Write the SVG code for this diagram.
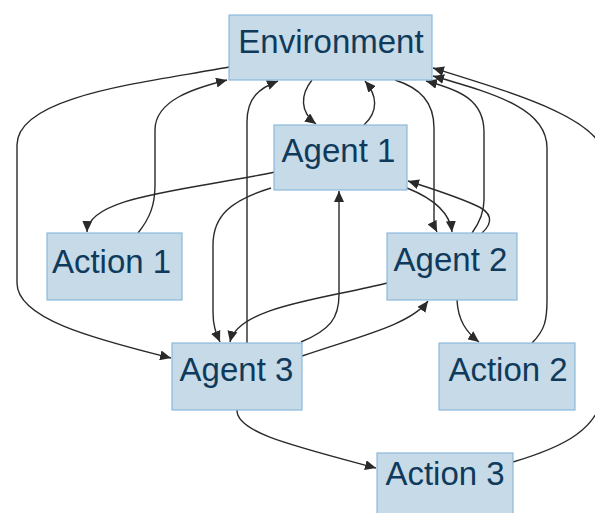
<svg xmlns="http://www.w3.org/2000/svg" width="595" height="513" viewBox="0 0 595 513">
  <style>
    .box { fill: #c6dae7; stroke: #8db9dc; stroke-width: 1.2; }
    .lbl { font-family: "Liberation Sans", Arial, sans-serif; font-size: 33px; fill: #0f3a5c; text-anchor: middle; }
    .edge { fill: none; stroke: #2a2a2a; stroke-width: 1.4; marker-end: url(#arrow); }
  </style>
  <defs>
    <marker id="arrow" markerUnits="userSpaceOnUse" markerWidth="12" markerHeight="10" refX="11" refY="5" orient="auto">
      <path d="M0,0 L11,5 L0,10 Z" fill="#2a2a2a"/>
    </marker>
  </defs>
  <rect width="595" height="513" fill="#ffffff"/>

  <!-- connectors -->
  <g id="connectors">
    <!-- Environment -> Agent 3 -->
    <path class="edge" d="M229,67 C150,82 17,95 17,145 L17,283 C17,318 90,338 171,358"/>
    <!-- Action 1 -> Environment -->
    <path class="edge" d="M138,233 C150,218 155,205 155,185 L155,130 C155,100 195,88 227,80"/>
    <!-- Agent 3 -> Environment -->
    <path class="edge" d="M247,343 L247,122 C247,97 260,88 278,81"/>
    <!-- Agent 1 -> Action 1 -->
    <path class="edge" d="M275,172 C190,190 88,196 87,232"/>
    <!-- Agent 1 -> Agent 3 -->
    <path class="edge" d="M271,188 C232,200 213,215 213,245 L213,312 C213,328 217,335 220,342"/>
    <!-- Environment -> Agent 1 -->
    <path class="edge" d="M312,80 C300,95 300,112 316,124"/>
    <!-- Agent 1 -> Environment -->
    <path class="edge" d="M364,125 C379,111 377,95 365,81"/>
    <!-- Environment -> Agent 2 -->
    <path class="edge" d="M395,80 C420,88 434,102 434,128 L434,220 C434,226 436,230 437,232"/>
    <!-- Agent 2 -> Environment -->
    <path class="edge" d="M472,233 C480,222 484,212 484,200 L484,132 C484,100 460,90 426,81"/>
    <!-- Agent 1 -> Agent 2 -->
    <path class="edge" d="M407,188 C432,198 450,212 452,232"/>
    <!-- Agent 2 -> Agent 1 -->
    <path class="edge" d="M482,233 C494,222 492,212 475,205 C455,196 430,188 408,181"/>
    <!-- Agent 2 -> Agent 3 -->
    <path class="edge" d="M387,283 C330,298 238,306 230,342"/>
    <!-- Agent 3 -> Agent 2 -->
    <path class="edge" d="M302,356 C360,336 410,325 428,301"/>
    <!-- Agent 3 -> Agent 1 -->
    <path class="edge" d="M301,342 C330,330 339,318 339,295 L339,191"/>
    <!-- Agent 2 -> Action 2 -->
    <path class="edge" d="M457,300 C458,320 466,332 479,342"/>
    <!-- Action 2 -> Environment -->
    <path class="edge" d="M532,343 C545,330 547,320 547,300 L547,148 C547,110 500,95 433,76"/>
    <!-- Action 3 -> Environment -->
    <path class="edge" d="M513,462 C560,448 605,430 605,380 L605,160 C605,120 520,95 433,68"/>
    <!-- Agent 3 -> Action 3 -->
    <path class="edge" d="M237,410 C236,432 290,445 376,468"/>
  </g>

  <g id="environment">
    <rect class="box" x="229" y="15" width="203" height="65"/>
    <text class="lbl" x="331" y="53">Environment</text>
  </g>
  <g id="agent1">
    <rect class="box" x="274" y="125" width="133" height="65"/>
    <text class="lbl" x="338.5" y="162">Agent 1</text>
  </g>
  <g id="action1">
    <rect class="box" x="47" y="233" width="135" height="67"/>
    <text class="lbl" x="111.5" y="273">Action 1</text>
  </g>
  <g id="agent2">
    <rect class="box" x="387" y="233" width="130" height="67"/>
    <text class="lbl" x="450.5" y="271">Agent 2</text>
  </g>
  <g id="agent3">
    <rect class="box" x="172" y="343" width="130" height="67"/>
    <text class="lbl" x="236.5" y="381">Agent 3</text>
  </g>
  <g id="action2">
    <rect class="box" x="439" y="343" width="136" height="67"/>
    <text class="lbl" x="508" y="381">Action 2</text>
  </g>
  <g id="action3">
    <rect class="box" x="377" y="453" width="136" height="70"/>
    <text class="lbl" x="445" y="485">Action 3</text>
  </g>
</svg>
